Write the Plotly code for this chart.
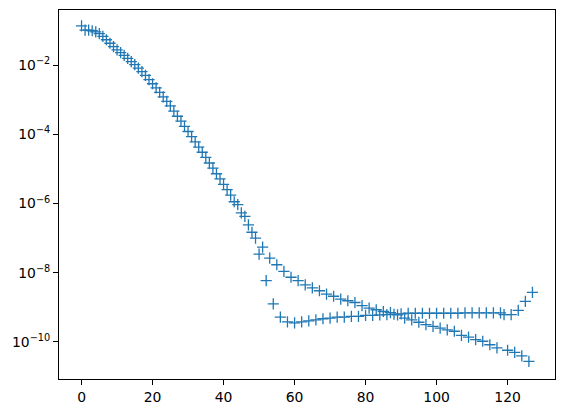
import plotly.graph_objects as go

# index positions of the coefficients
indices = list(range(128))

# log10 of magnitude
head_log = [
    -0.87, -0.99, -0.99, -1.01, -1.04, -1.09, -1.17, -1.27, -1.37, -1.47,
    -1.56, -1.64, -1.72, -1.81, -1.90, -1.99, -2.09, -2.19, -2.30, -2.42,
    -2.54, -2.66, -2.79, -2.92, -3.05, -3.18, -3.33, -3.48, -3.62, -3.77,
    -3.92, -4.07, -4.22, -4.37, -4.52, -4.67, -4.83, -4.98, -5.14, -5.29,
    -5.45, -5.60, -5.76, -5.95, -6.03, -6.27, -6.37, -6.62, -6.83, -7.00,
    -7.46, -7.26,
]  # indices 0..51

# indices 52..127, alternating branches
tail_log = [
    -8.23, -7.58, -8.90, -7.77, -9.28, -7.96, -9.42, -8.13, -9.45, -8.23,  # 52-61
    -9.42, -8.35, -9.39, -8.44, -9.36, -8.52, -9.33, -8.62, -9.31, -8.68,  # 62-71
    -9.28, -8.76, -9.28, -8.81, -9.26, -8.86, -9.26, -8.95, -9.23, -9.02,  # 72-81
    -9.23, -9.07, -9.22, -9.12, -9.21, -9.15, -9.20, -9.22, -9.19, -9.31,  # 82-91
    -9.17, -9.36, -9.17, -9.43, -9.17, -9.50, -9.17, -9.55, -9.17, -9.60,  # 92-101
    -9.17, -9.65, -9.17, -9.69, -9.17, -9.81, -9.16, -9.86, -9.16, -9.93,  # 102-111
    -9.16, -9.98, -9.16, -10.08, -9.16, -10.17, -9.16, -9.21, -10.24, -9.21,  # 112-121
    -10.30, -9.09, -10.40, -8.83, -10.56, -8.57,  # 122-127
]

magnitudes = [10 ** v for v in head_log + tail_log]

y_tick_vals = [1e-10, 1e-8, 1e-6, 1e-4, 1e-2]
y_tick_text = ["10<sup>\u221210</sup>", "10<sup>\u22128</sup>", "10<sup>\u22126</sup>",
               "10<sup>\u22124</sup>", "10<sup>\u22122</sup>"]
x_tick_vals = [0, 20, 40, 60, 80, 100, 120]

fig = go.Figure()
fig.add_trace(go.Scatter(
    x=indices, y=magnitudes, mode="markers",
    marker=dict(symbol="cross-thin", size=8, color="#1f77b4",
                line=dict(width=1.3, color="#1f77b4")),
    showlegend=False, hoverinfo="skip",
))

axis_common = dict(
    showline=True, mirror=True, linecolor="black", linewidth=1,
    ticks="outside", ticklen=5, tickwidth=1, tickcolor="black",
    showgrid=False, zeroline=False, automargin=False,
    tickfont=dict(family="DejaVu Sans", size=13.9, color="black"),
)

fig.update_xaxes(range=[-6.35, 133.35], tickvals=x_tick_vals, **axis_common)
fig.update_yaxes(type="log", range=[-11.07, -0.41], tickvals=y_tick_vals,
                 ticktext=y_tick_text, **axis_common)

fig.update_layout(
    width=565, height=413,
    margin=dict(l=59, r=10, t=10, b=34),
    plot_bgcolor="white", paper_bgcolor="white",
    font=dict(family="DejaVu Sans", color="black"),
)

fig.write_html(
    "out.html",
    config={"displayModeBar": False, "staticPlot": True},
    post_script="document.body.style.margin='0';document.body.style.padding='0';",
)
